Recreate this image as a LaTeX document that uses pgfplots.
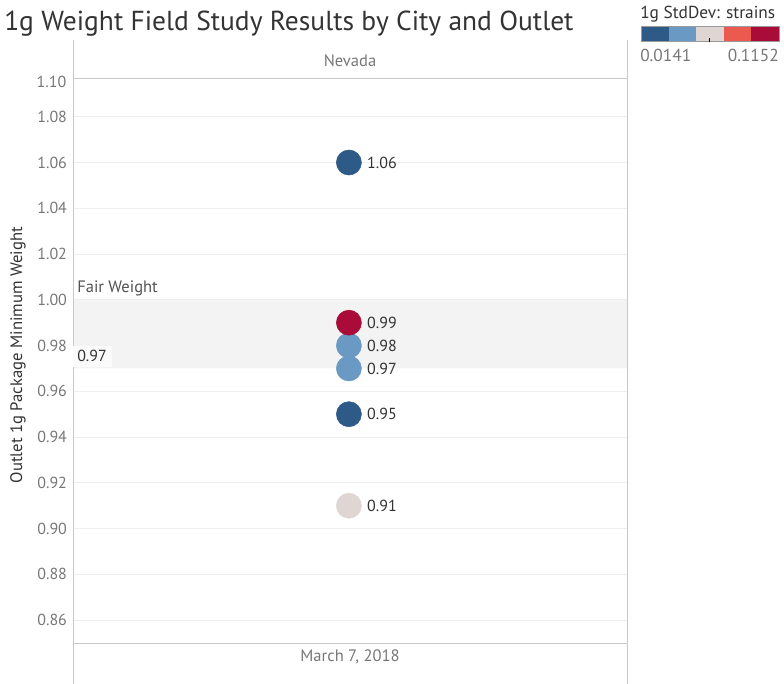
\documentclass[border=0pt]{standalone}
\usepackage{pgfplots}
\pgfplotsset{compat=1.18}
\usepackage{fontspec}
\setmainfont{PT Sans}
\definecolor{dblue}{HTML}{2E5A87}
\definecolor{lblue}{HTML}{6A9AC4}
\definecolor{lgrey}{HTML}{DFD5D2}
\definecolor{lred}{HTML}{EB5A4E}
\definecolor{dred}{HTML}{A90C38}
\definecolor{tickc}{HTML}{777777}
\definecolor{textc}{HTML}{333333}
\definecolor{gridc}{HTML}{EEEEEE}
\definecolor{linec}{HTML}{C8C8C8}
\definecolor{bandc}{HTML}{F3F3F3}
\begin{document}
\begin{tikzpicture}
\begin{axis}[
  at={(54.75pt,-482.25pt)}, anchor=south west,
  scale only axis, width=415.5pt, height=423pt,
  xmin=0, xmax=1, ymin=0.85, ymax=1.0965,
  axis line style={draw=none},
  xtick=\empty,
  ytick={0.86,0.88,0.90,0.92,0.94,0.96,0.98,1.00,1.02,1.04,1.06,1.08},
  ymajorgrids, grid style={color=gridc, line width=0.75pt},
  major tick length=0pt,
  yticklabel style={font=\fontsize{12}{14}\selectfont, text=tickc, xshift=-1pt},
  /pgf/number format/.cd, fixed, fixed zerofill, precision=2, assume math mode=true,
]
\addplot[draw=none, fill=bandc] coordinates {(0,0.97) (1,0.97) (1,1.00) (0,1.00)} \closedcycle;
\pgfplotsset{every node near coord/.append style={anchor=west, xshift=13.5pt, inner sep=0pt, text=textc, font=\fontsize{12}{14}\selectfont}}
\addplot[only marks, mark=*, mark size=9.4pt, color=lgrey, point meta=explicit symbolic, nodes near coords]
  table[meta=label] {
x y label
0.498 0.91 0.91
};
\addplot[only marks, mark=*, mark size=9.4pt, color=dblue, point meta=explicit symbolic, nodes near coords]
  table[meta=label] {
x y label
0.498 1.06 1.06
0.498 0.95 0.95
};
\addplot[only marks, mark=*, mark size=9.4pt, color=lblue, point meta=explicit symbolic, nodes near coords]
  table[meta=label] {
x y label
0.498 0.97 0.97
0.498 0.98 0.98
};
\addplot[only marks, mark=*, mark size=9.4pt, color=dred, point meta=explicit symbolic, nodes near coords]
  table[meta=label] {
x y label
0.498 0.99 0.99
};
\end{axis}
\begin{scope}[x=0.75pt,y=-0.75pt]
\path[use as bounding box] (0,0) rectangle (784,684);
% frame lines
\draw[linec, line width=0.75pt] (73,40) -- (73,684);
\draw[linec, line width=0.75pt] (627,40) -- (627,684);
\draw[linec, line width=0.75pt] (73,79) -- (627,79);
\draw[linec, line width=0.75pt] (73,643) -- (627,643);
% texts
\node[anchor=east, text=tickc, font=\fontsize{12}{14}\selectfont, inner sep=0pt] at (66.5,82) {1.10};
\node[text=tickc, font=\fontsize{12.4}{14}\selectfont] at (350,61) {Nevada};
\node[text=tickc, font=\fontsize{12.4}{14}\selectfont] at (350,657) {March 7, 2018};
\node[anchor=west, text=textc!85!white, font=\fontsize{12.4}{14}\selectfont, inner sep=0pt] at (77,288) {Fair Weight};
\fill[white!60!bandc] (73,346) rectangle (112,367);
\node[anchor=west, text=textc, font=\fontsize{12}{14}\selectfont, inner sep=0pt] at (77,356) {0.97};
\node[rotate=90, text=textc, font=\fontsize{12.5}{14}\selectfont] at (18,355) {Outlet 1g Package Minimum Weight};
\node[anchor=west, text=textc, font=\fontsize{20.6}{24}\selectfont, inner sep=0pt] at (4,24) {1g Weight Field Study Results by City and Outlet};
% colour legend
\node[anchor=west, text=textc, font=\fontsize{13}{14}\selectfont, inner sep=0pt] at (640,14) {1g StdDev: strains};
\fill[dblue] (641,27) rectangle (668.6,42);
\fill[lblue] (668.6,27) rectangle (696.2,42);
\fill[lgrey] (696.2,27) rectangle (723.8,42);
\fill[lred] (723.8,27) rectangle (751.4,42);
\fill[dred] (751.4,27) rectangle (779,42);
\draw[gray!80, line width=0.75pt] (641,27) rectangle (779,42);
\draw[black, line width=0.6pt] (709,38) -- (709,42);
\node[anchor=west, text=tickc, font=\fontsize{13}{14}\selectfont, inner sep=0pt] at (640,55) {0.0141};
\node[anchor=east, text=tickc, font=\fontsize{13}{14}\selectfont, inner sep=0pt] at (779,55) {0.1152};
\end{scope}
\end{tikzpicture}
\end{document}
